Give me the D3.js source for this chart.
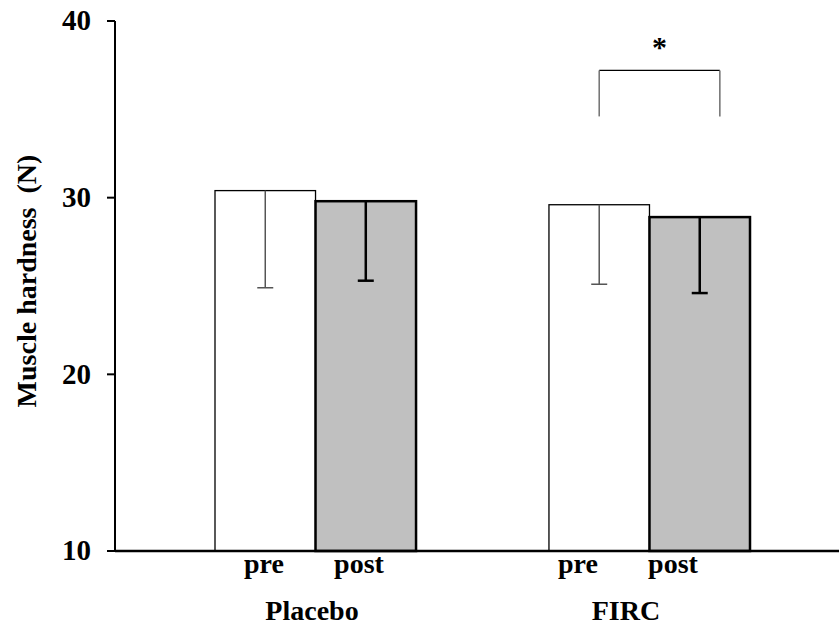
<!DOCTYPE html>
<html>
<head>
<meta charset="utf-8">
<script src="https://cdn.jsdelivr.net/npm/d3@7"></script>
<style>
  body { margin: 0; background: #fff; }
  svg { display: block; }
  text { font-family: "Liberation Serif", "Times New Roman", serif; font-weight: bold; fill: #000; }
</style>
</head>
<body>
<svg id="chart" width="839" height="627"></svg>
<script>
// chart values
const groups = ["Placebo", "FIRC"];
const phases = ["pre", "post"];
const placeboMean = [30.4, 29.8];
const placeboSD = [5.5, 4.5];
const fircMean = [29.6, 28.9];
const fircSD = [4.5, 4.3];
const yTicks = [10, 20, 30, 40];
// significance bracket: FIRC pre vs post
const sigGroup = "FIRC";
const sigLevel = [37.2, 34.6];
const sigLabel = "*";

let rows = [];
groups.forEach(function(g, gi) {
  let means = gi == 0 ? placeboMean : fircMean;
  let sds = gi == 0 ? placeboSD : fircSD;
  phases.forEach(function(p, pi) {
    rows.push({ group: g, phase: p, mean: means[pi], sd: sds[pi] });
  });
});

let svg = d3.select("#chart");

let y = d3.scaleLinear().domain([10, 40]).range([551, 21]);
let x = d3.scaleBand().domain(groups).range([215, 750]).paddingInner(0.398).paddingOuter(0);
let xSub = d3.scaleBand().domain(phases).range([0, x.bandwidth()]);

// labels sit a bit off the bars in the original
let xLabel = d3.scalePoint().domain(groups).range([312, 626]);
let xLabelSub = d3.scalePoint().domain(phases).range([-48, 47]);

// bars
svg.selectAll("rect.bar")
  .data(rows)
  .enter()
  .append("rect")
  .attr("class", "bar")
  .attr("x", function(d) { return x(d.group) + xSub(d.phase); })
  .attr("y", function(d) { return y(d.mean); })
  .attr("width", xSub.bandwidth())
  .attr("height", function(d) { return y(10) - y(d.mean); })
  .style("fill", function(d) { return d.phase == "pre" ? "#ffffff" : "#c0c0c0"; })
  .style("stroke", "#000")
  .style("stroke-width", function(d) { return d.phase == "pre" ? 1.3 : 2.5; });

// error bars (downward only)
let err = svg.selectAll("g.err")
  .data(rows)
  .enter()
  .append("g")
  .attr("class", "err")
  .style("stroke", function(d) { return d.phase == "pre" ? "#555" : "#000"; })
  .style("stroke-width", function(d) { return d.phase == "pre" ? 1.5 : 2.5; });

err.append("line")
  .attr("x1", function(d) { return x(d.group) + xSub(d.phase) + xSub.bandwidth() / 2; })
  .attr("x2", function(d) { return x(d.group) + xSub(d.phase) + xSub.bandwidth() / 2; })
  .attr("y1", function(d) { return y(d.mean); })
  .attr("y2", function(d) { return y(d.mean - d.sd); });

err.append("line")
  .attr("x1", function(d) { return x(d.group) + xSub(d.phase) + xSub.bandwidth() / 2 - 8; })
  .attr("x2", function(d) { return x(d.group) + xSub(d.phase) + xSub.bandwidth() / 2 + 8; })
  .attr("y1", function(d) { return y(d.mean - d.sd); })
  .attr("y2", function(d) { return y(d.mean - d.sd); });

// y axis
let yAxis = svg.append("g");
yAxis.append("line")
  .attr("x1", 115).attr("x2", 115)
  .attr("y1", y(40)).attr("y2", y(10))
  .style("stroke", "#000").style("stroke-width", 2);
yAxis.selectAll("line.tick")
  .data(yTicks)
  .enter()
  .append("line")
  .attr("class", "tick")
  .attr("x1", 107).attr("x2", 115)
  .attr("y1", function(d) { return y(d); })
  .attr("y2", function(d) { return y(d); })
  .style("stroke", "#000").style("stroke-width", 2);
yAxis.selectAll("text")
  .data(yTicks)
  .enter()
  .append("text")
  .attr("x", 91)
  .attr("y", function(d) { return y(d); })
  .attr("dy", "0.32em")
  .attr("text-anchor", "end")
  .style("font-size", "29px")
  .text(function(d) { return d; });

// x axis baseline
svg.append("line")
  .attr("x1", 115).attr("x2", 839)
  .attr("y1", y(10)).attr("y2", y(10))
  .style("stroke", "#000").style("stroke-width", 2.5);

// phase and group labels
svg.selectAll("text.phase")
  .data(rows)
  .enter()
  .append("text")
  .attr("class", "phase")
  .attr("x", function(d) { return xLabel(d.group) + xLabelSub(d.phase); })
  .attr("y", 573)
  .attr("text-anchor", "middle")
  .style("font-size", "28px")
  .text(function(d) { return d.phase; });

svg.selectAll("text.group")
  .data(groups)
  .enter()
  .append("text")
  .attr("class", "group")
  .attr("x", function(d) { return xLabel(d); })
  .attr("y", 620)
  .attr("text-anchor", "middle")
  .style("font-size", "28px")
  .text(function(d) { return d; });

// y axis title
svg.append("text")
  .attr("transform", "translate(36,281) rotate(-90)")
  .attr("text-anchor", "middle")
  .style("font-size", "28px")
  .style("white-space", "pre")
  .text("Muscle hardness  (N)");

// significance bracket
let bx1 = x(sigGroup) + xSub("pre") + xSub.bandwidth() / 2;
let bx2 = x(sigGroup) + xSub("post") + xSub.bandwidth() * 0.7;
let sig = svg.append("g");
sig.append("line")
  .attr("x1", bx1).attr("x2", bx2)
  .attr("y1", y(sigLevel[0])).attr("y2", y(sigLevel[0]))
  .style("stroke", "#000").style("stroke-width", 1.3);
sig.selectAll("line.leg")
  .data([bx1, bx2])
  .enter()
  .append("line")
  .attr("class", "leg")
  .attr("x1", function(d) { return d; })
  .attr("x2", function(d) { return d; })
  .attr("y1", y(sigLevel[0]))
  .attr("y2", y(sigLevel[1]))
  .style("stroke", "#777").style("stroke-width", 1.6);
sig.append("text")
  .attr("x", (bx1 + bx2) / 2)
  .attr("y", 57)
  .attr("text-anchor", "middle")
  .style("font-size", "30px")
  .text(sigLabel);
</script>
</body>
</html>
